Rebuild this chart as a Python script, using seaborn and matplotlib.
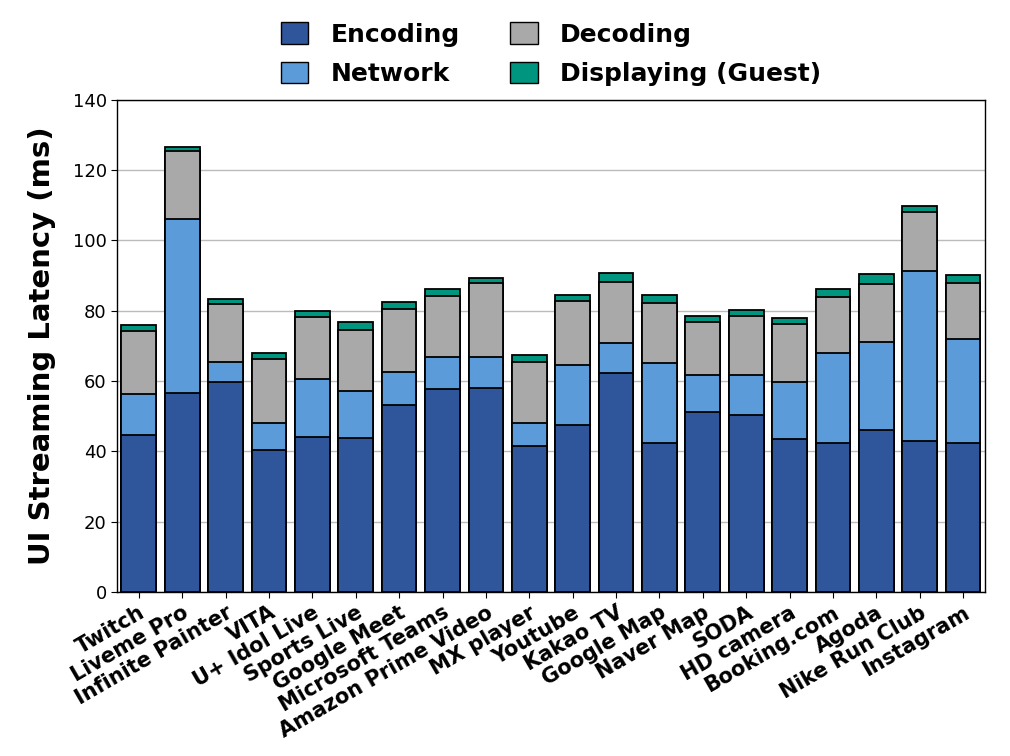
import numpy as np
import pandas as pd
import matplotlib
matplotlib.use("Agg")
import matplotlib.pyplot as plt
import seaborn as sns
from matplotlib.patches import Patch

apps = ["Twitch", "Liveme Pro", "Infinite Painter", "VITA", "U+ Idol Live", "Sports Live",
        "Google Meet", "Microsoft Teams", "Amazon Prime Video", "MX player", "Youtube",
        "Kakao TV", "Google Map", "Naver Map", "SODA", "HD camera", "Booking.com",
        "Agoda", "Nike Run Club", "Instagram"]
encoding = [44.6, 56.5, 59.7, 40.4, 44.2, 43.7, 53.2, 57.8, 58.1, 41.5, 47.5,
            62.2, 42.3, 51.3, 50.4, 43.5, 42.3, 46.1, 42.8, 42.3]
network = [11.7, 49.6, 5.7, 7.6, 16.3, 13.5, 9.5, 8.9, 8.6, 6.5, 17.1,
           8.6, 22.8, 10.5, 11.4, 16.1, 25.6, 25.1, 48.5, 29.7]
decoding = [17.8, 19.2, 16.6, 18.2, 17.6, 17.4, 17.7, 17.5, 21.3, 17.5, 18.2,
            17.5, 17.1, 15.1, 16.6, 16.6, 16.1, 16.4, 16.7, 16.0]
displaying = [1.9, 1.4, 1.3, 1.7, 1.9, 2.1, 2.0, 1.9, 1.4, 1.8, 1.7,
              2.4, 2.3, 1.5, 1.7, 1.7, 2.1, 2.8, 1.7, 2.2]

layers = ["Encoding", "Network", "Decoding", "Displaying (Guest)"]
colors = ["#2f559b", "#5b9bd9", "#a9a9a9", "#00957f"]

df = pd.DataFrame({"app": apps, "Encoding": encoding, "Network": network,
                   "Decoding": decoding, "Displaying (Guest)": displaying})
cum = df[layers].cumsum(axis=1)

sns.set_style("white")
plt.rcParams["font.family"] = ["DejaVu Sans"]
plt.rcParams["text.color"] = "black"
plt.rcParams["axes.labelcolor"] = "black"
plt.rcParams["xtick.color"] = "black"
plt.rcParams["ytick.color"] = "black"

fig = plt.figure(figsize=(10.1, 7.56), dpi=100)
ax = fig.add_axes([0.116, 0.217, 0.859, 0.651])

for layer, col in zip(reversed(layers), reversed(colors)):
    sns.barplot(x=df["app"], y=cum[layer], color=col, edgecolor="black",
                linewidth=1.3, width=0.8, saturation=1, ax=ax, zorder=3)

ax.set_ylim(0, 140)
ax.set_yticks(np.arange(0, 141, 20))
ax.yaxis.grid(True, color="#bbbbbb", linewidth=1, zorder=0)
ax.set_axisbelow(True)
ax.set_xlabel("")
ax.set_ylabel("UI Streaming Latency (ms)", fontsize=21, fontweight="bold", labelpad=12)
ax.tick_params(axis="y", labelsize=13, length=4, left=True)
ax.tick_params(axis="x", length=4, bottom=True)
plt.setp(ax.get_xticklabels(), rotation=30, ha="right", rotation_mode="anchor",
         fontsize=15, fontweight="bold")
for s in ax.spines.values():
    s.set_color("black")
    s.set_linewidth(1)

handles = [Patch(facecolor=c, edgecolor="black", label=l) for l, c in zip(layers, colors)]
ax.legend(handles=handles, loc="lower center", bbox_to_anchor=(0.5, 0.982), ncol=2,
          frameon=False, prop={"size": 18, "weight": "bold"}, columnspacing=2.0,
          handlelength=1.1, handleheight=0.95, handletextpad=0.9, labelspacing=0.6)

fig.savefig("out.png", dpi=100)
